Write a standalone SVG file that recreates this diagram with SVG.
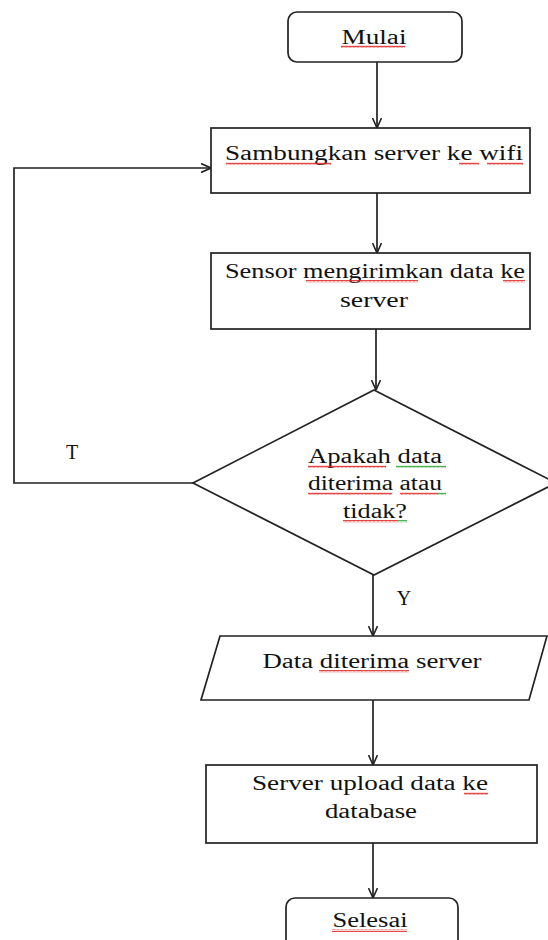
<svg xmlns="http://www.w3.org/2000/svg" width="548" height="940" viewBox="0 0 548 940">
<style>
.box{fill:#fff;stroke:#222;stroke-width:1.7}
.ln{fill:none;stroke:#222;stroke-width:1.7}
.t{font-family:"Liberation Serif","Times New Roman",serif;font-size:20px;fill:#111;text-anchor:middle}
.sq{fill:url(#red)}
.sg{fill:url(#green)}
</style>
<defs>
<marker id="ah" viewBox="0 0 10 10" refX="10" refY="5" markerWidth="10" markerHeight="10" markerUnits="userSpaceOnUse" orient="auto">
<path d="M0,0.5 L10,5 L0,9.5" fill="none" stroke="#222" stroke-width="1.6"/>
</marker>
<pattern id="red" width="4" height="3" patternUnits="userSpaceOnUse">
<path d="M0,2.5 L1,0.8 L2,2.5 L3,0.8 L4,2.5" fill="none" stroke="#e02020" stroke-width="0.9"/>
</pattern>
<pattern id="green" width="4" height="3" patternUnits="userSpaceOnUse">
<path d="M0,2.5 L1,0.8 L2,2.5 L3,0.8 L4,2.5" fill="none" stroke="#30a030" stroke-width="0.9"/>
</pattern>
</defs>
<g id="connectors">
<line class="ln" x1="377" y1="62" x2="377" y2="128" marker-end="url(#ah)"/>
<line class="ln" x1="377" y1="193" x2="377" y2="253" marker-end="url(#ah)"/>
<line class="ln" x1="376" y1="329" x2="376" y2="390" marker-end="url(#ah)"/>
<polyline class="ln" points="193,483 14,483 14,168 211,168" marker-end="url(#ah)"/>
<line class="ln" x1="373" y1="575" x2="373" y2="636" marker-end="url(#ah)"/>
<line class="ln" x1="373" y1="700" x2="373" y2="765" marker-end="url(#ah)"/>
<line class="ln" x1="373" y1="843" x2="373" y2="898" marker-end="url(#ah)"/>
<text class="t" x="72" y="459">T</text>
<text class="t" x="404" y="605">Y</text>
</g>
<g id="mulai">
<rect class="box" x="288" y="12" width="174" height="50" rx="9"/>
<text class="t" x="374" y="44" textLength="65" lengthAdjust="spacingAndGlyphs">Mulai</text>
<rect class="sq" x="341" y="45" width="64" height="3"/>
</g>
<g id="sambungkan">
<rect class="box" x="211" y="128" width="319" height="65"/>
<text class="t" x="374" y="160" textLength="298" lengthAdjust="spacingAndGlyphs">Sambungkan server ke wifi</text>
<rect class="sq" x="226" y="162" width="105" height="3"/>
<rect class="sq" x="459" y="162" width="20" height="3"/>
<rect class="sq" x="487" y="162" width="36" height="3"/>
</g>
<g id="sensor">
<rect class="box" x="211" y="253" width="319" height="76"/>
<text class="t" x="375" y="278" textLength="300" lengthAdjust="spacingAndGlyphs">Sensor mengirimkan data ke</text>
<text class="t" x="374" y="307" textLength="68" lengthAdjust="spacingAndGlyphs">server</text>
<rect class="sq" x="306" y="280" width="112" height="3"/>
<rect class="sq" x="503" y="280" width="22" height="3"/>
</g>
<g id="decision">
<polygon class="box" points="374,390 556,483 374,575 193,483"/>
<text class="t" x="375" y="463" textLength="134" lengthAdjust="spacingAndGlyphs">Apakah data</text>
<text class="t" x="375" y="490" textLength="134" lengthAdjust="spacingAndGlyphs">diterima atau</text>
<text class="t" x="375" y="518" textLength="64" lengthAdjust="spacingAndGlyphs">tidak?</text>
<rect class="sq" x="308" y="465" width="78" height="3"/>
<rect class="sg" x="396" y="465" width="50" height="3"/>
<rect class="sq" x="308" y="492" width="84" height="3"/>
<rect class="sq" x="400" y="492" width="38" height="3"/>
<rect class="sg" x="438" y="492" width="8" height="3"/>
<rect class="sq" x="343" y="520" width="54" height="3"/>
<rect class="sg" x="397" y="520" width="10" height="3"/>
</g>
<g id="data-diterima">
<polygon class="box" points="220,636 547,636 529,700 201,700"/>
<text class="t" x="372" y="668" textLength="219" lengthAdjust="spacingAndGlyphs">Data diterima server</text>
<rect class="sq" x="319" y="670" width="90" height="3"/>
</g>
<g id="upload">
<rect class="box" x="206" y="765" width="331" height="78"/>
<text class="t" x="370" y="790" textLength="236" lengthAdjust="spacingAndGlyphs">Server upload data ke</text>
<text class="t" x="371" y="818" textLength="92" lengthAdjust="spacingAndGlyphs">database</text>
<rect class="sq" x="464" y="792" width="24" height="3"/>
</g>
<g id="selesai">
<rect class="box" x="286" y="898" width="172" height="60" rx="9"/>
<text class="t" x="370" y="927" textLength="75" lengthAdjust="spacingAndGlyphs">Selesai</text>
<rect class="sq" x="332" y="929" width="75" height="3"/>
</g>
</svg>
